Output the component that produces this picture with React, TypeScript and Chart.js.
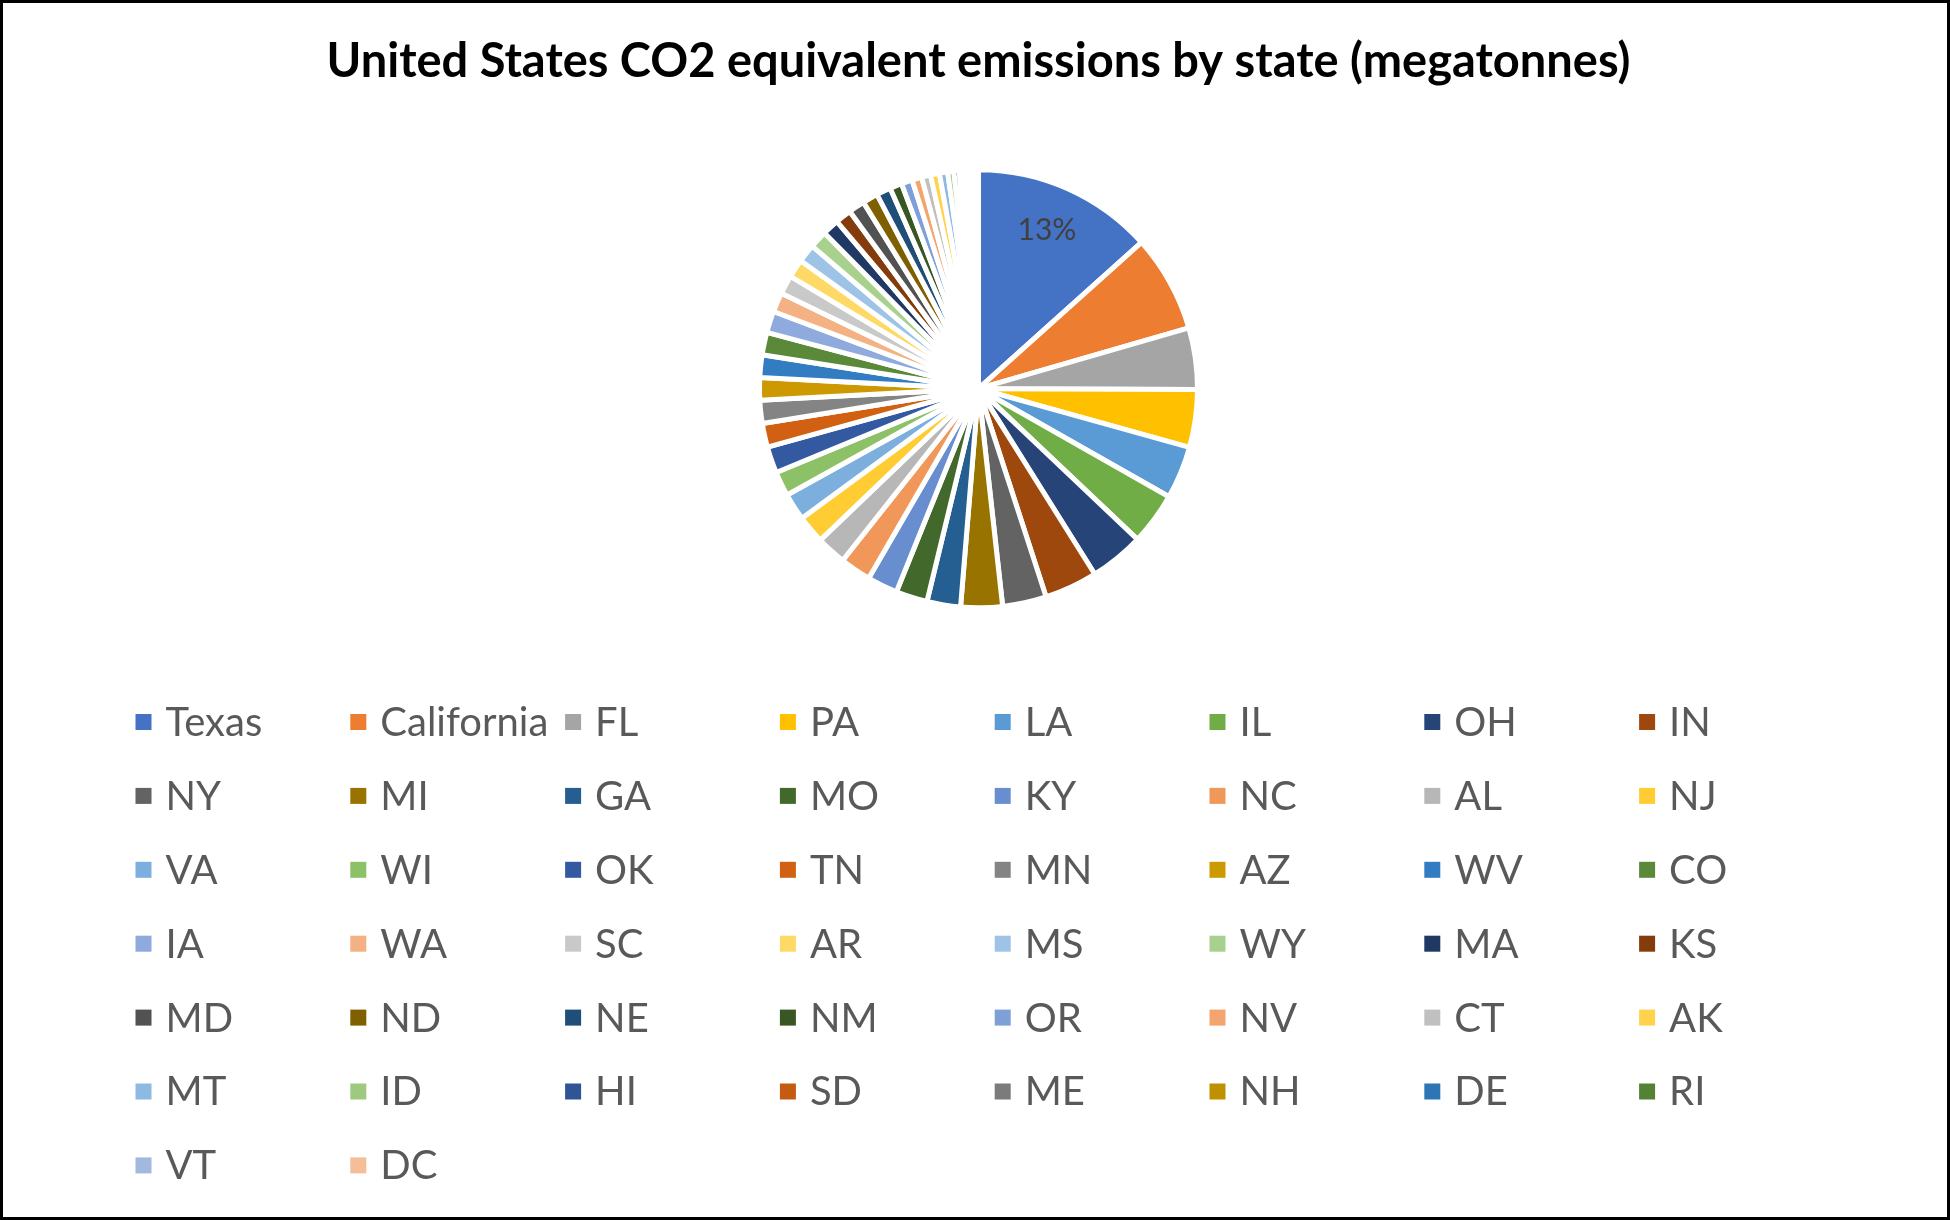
import React, { useEffect, useRef } from "react";
import { Chart, registerables } from "chart.js";

Chart.register(...registerables);

const chartTitle = "United States CO2 equivalent emissions by state (megatonnes)";

const states = [
  "Texas", "California", "FL", "PA", "LA", "IL", "OH", "IN",
  "NY", "MI", "GA", "MO", "KY", "NC", "AL", "NJ",
  "VA", "WI", "OK", "TN", "MN", "AZ", "WV", "CO",
  "IA", "WA", "SC", "AR", "MS", "WY", "MA", "KS",
  "MD", "ND", "NE", "NM", "OR", "NV", "CT", "AK",
  "MT", "ID", "HI", "SD", "ME", "NH", "DE", "RI",
  "VT", "DC",
];

const emissions = [
  706, 378, 240, 225, 206, 204, 212, 207,
  171, 162, 131, 123, 119, 121, 116, 110,
  106, 96, 103, 93, 90, 87, 88, 88,
  84, 76, 74, 72, 71, 69, 65, 63,
  63, 60, 56, 47, 43, 38, 35, 35,
  32, 24, 21, 16, 15, 13, 12, 9,
  6, 3,
];

const sliceColors = [
  "#4472C4", "#ED7D31", "#A5A5A5", "#FFC000", "#5B9BD5", "#70AD47", "#264478", "#9E480E",
  "#636363", "#997300", "#255E91", "#43682B", "#698ED0", "#F1975A", "#B7B7B7", "#FFCD33",
  "#7CAFDD", "#8CC168", "#335AA1", "#D26012", "#848484", "#CC9A00", "#327DC2", "#5A8A39",
  "#8FAADC", "#F4B183", "#C9C9C9", "#FFD966", "#9DC3E6", "#A9D18E", "#203864", "#843C0C",
  "#525252", "#7F6000", "#1F4E79", "#385723", "#7F9FD8", "#F3A46F", "#C0C0C0", "#FFD34D",
  "#8CBAE3", "#9DCA7E", "#2F5597", "#C55A11", "#7B7B7B", "#BF9000", "#2E75B6", "#548235",
  "#A2B8E1", "#F6BE98",
];

const FRAME = 3;
const W = 1950;
const H = 1220;

const gridLegendPlugin = {
  id: "gridLegend",
  afterDraw(chart: any) {
    const ctx = chart.ctx;
    const labels: string[] = chart.data.labels;
    const bg: string[] = chart.data.datasets[0].backgroundColor;
    const cols = 8;
    const x0 = 143.5 - FRAME;
    const y0 = 722 - FRAME;
    const dx = 214.8;
    const dy = 73.9;
    const box = 16;
    ctx.save();
    ctx.font = "40px Lato";
    ctx.textBaseline = "middle";
    ctx.textAlign = "left";
    labels.forEach((lab, i) => {
      const c = i % cols;
      const r = Math.floor(i / cols);
      const cx = x0 + c * dx;
      const cy = y0 + r * dy;
      ctx.fillStyle = bg[i];
      ctx.fillRect(cx - box / 2, cy - box / 2, box, box);
      ctx.fillStyle = "#595959";
      ctx.fillText(lab, cx + 22, cy + 1);
    });
    ctx.restore();
  },
};

const sliceLabelPlugin = {
  id: "sliceLabel",
  afterDatasetsDraw(chart: any) {
    const meta = chart.getDatasetMeta(0);
    const arc = meta.data[0];
    if (!arc) return;
    const p = arc.getProps(["x", "y", "startAngle", "endAngle", "outerRadius"], true);
    const data: number[] = chart.data.datasets[0].data;
    const total = data.reduce((a, b) => a + b, 0);
    const pct = Math.round((data[0] / total) * 100);
    const mid = (p.startAngle + p.endAngle) / 2;
    const r = p.outerRadius * 0.8;
    const ctx = chart.ctx;
    ctx.save();
    ctx.font = "30px Lato";
    ctx.fillStyle = "#404040";
    ctx.textAlign = "center";
    ctx.textBaseline = "middle";
    ctx.fillText(pct + "%", p.x + Math.cos(mid) * r - 3, p.y + Math.sin(mid) * r + 2);
    ctx.restore();
  },
};

export default function App() {
  const canvasRef = useRef<HTMLCanvasElement | null>(null);

  useEffect(() => {
    if (!canvasRef.current) return;
    const chart = new Chart(canvasRef.current, {
      type: "pie",
      data: {
        labels: states,
        datasets: [
          {
            data: emissions,
            backgroundColor: sliceColors,
            borderColor: "#ffffff",
            borderWidth: 5,
            hoverOffset: 0,
          },
        ],
      },
      options: {
        responsive: false,
        devicePixelRatio: 1,
        animation: false,
        radius: 219,
        layout: { padding: { left: 7, right: 0, top: 0, bottom: 544 } },
        plugins: {
          legend: { display: false },
          tooltip: { enabled: false },
          title: {
            display: true,
            text: chartTitle,
            color: "#000000",
            font: { family: "Lato", size: 47, weight: "bold" },
            padding: { top: 31, bottom: 14 },
          },
        },
      } as any,
      plugins: [gridLegendPlugin, sliceLabelPlugin],
    });
    return () => chart.destroy();
  }, []);

  return (
    <div
      style={{
        position: "absolute",
        left: 0,
        top: 0,
        width: W,
        height: H,
        boxSizing: "border-box",
        border: `${FRAME}px solid #000`,
        background: "#fff",
      }}
    >
      <canvas
        ref={canvasRef}
        width={W - 2 * FRAME}
        height={H - 2 * FRAME}
        style={{ display: "block", width: W - 2 * FRAME, height: H - 2 * FRAME }}
      />
    </div>
  );
}
